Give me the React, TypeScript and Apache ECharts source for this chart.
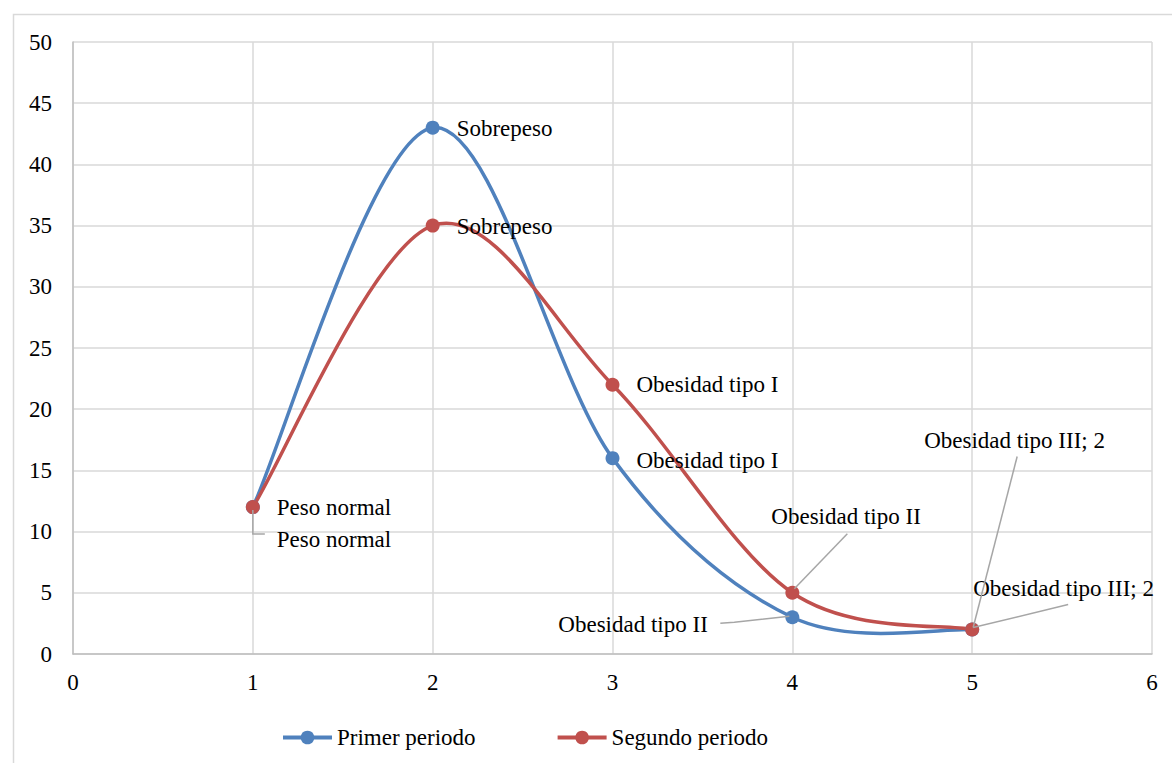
import React, { useEffect, useRef } from 'react';
import * as echarts from 'echarts';

const xValues = [1, 2, 3, 4, 5];
const primerValues = [12, 43, 16, 3, 2];
const segundoValues = [12, 35, 22, 5, 2];
const categoryNames = ['Peso normal', 'Sobrepeso', 'Obesidad tipo I', 'Obesidad tipo II', 'Obesidad tipo III'];
const seriesNames = ['Primer periodo', 'Segundo periodo'];

// label displacement (px) relative to default "right" position
const primerLabelShift = [[0, 32], [0, 1], [0, 2], [-258, 7], [-72, -189]];
const segundoLabelShift = [[0, 0], [0, 1], [0, 0], [-45, -76], [-23, -41]];

// leader lines: pixel offsets from the data point, per point (null = none)
const primerLeaders: (number[][] | null)[] = [
  [[0, 3], [0, 27], [12, 27]],
  null,
  null,
  [[-72, 6], [-58, 5], [-3, -1]],
  [[45, -173], [1, -2]],
];
const segundoLeaders: (number[][] | null)[] = [
  null,
  null,
  null,
  [[55, -59], [2, -4]],
  [[96, -25], [1, -2]],
];

const FONT = 'Liberation Serif';
const BLUE = '#4f81bd';
const RED = '#c0504d';

export default function App() {
  const ref = useRef<HTMLDivElement>(null);
  useEffect(() => {
    if (!ref.current) return;
    const chart = echarts.init(ref.current, undefined, { renderer: 'svg' });
    const labelCommon = {
      show: true,
      position: 'right',
      distance: 17,
      fontFamily: FONT,
      fontSize: 23,
      color: '#000',
      formatter: (p: any) =>
        p.dataIndex === xValues.length - 1 ? `${p.name}; ${p.value[1]}` : p.name,
    };

    // Catmull-Rom style smoothed curve (like the spreadsheet's smoothed line)
    const mkCurve = (name: string, values: number[], color: string) => ({
      type: 'custom',
      name,
      z: 1,
      coordinateSystem: 'cartesian2d',
      data: values.map((v, i) => [xValues[i], v]),
      encode: { x: 0, y: 1 },
      silent: true,
      renderItem: (params: any, api: any) => {
        const n = values.length;
        const i = params.dataIndex;
        if (i >= n - 1) return null;
        const pts = values.map((v, k) => api.coord([xValues[k], v]));
        const p0 = pts[Math.max(i - 1, 0)];
        const p1 = pts[i];
        const p2 = pts[i + 1];
        const p3 = pts[Math.min(i + 2, n - 1)];
        return {
          type: 'bezierCurve',
          shape: {
            x1: p1[0],
            y1: p1[1],
            x2: p2[0],
            y2: p2[1],
            cpx1: p1[0] + (p2[0] - p0[0]) / 6,
            cpy1: p1[1] + (p2[1] - p0[1]) / 6,
            cpx2: p2[0] - (p3[0] - p1[0]) / 6,
            cpy2: p2[1] - (p3[1] - p1[1]) / 6,
          },
          style: { stroke: color, lineWidth: 3.5, fill: 'none', lineCap: 'round' },
        };
      },
    });

    const mkLeaders = (name: string, values: number[], leaders: (number[][] | null)[]) => ({
      type: 'custom',
      name,
      z: 4,
      coordinateSystem: 'cartesian2d',
      data: values.map((v, i) => [xValues[i], v]),
      encode: { x: 0, y: 1 },
      silent: true,
      renderItem: (params: any, api: any) => {
        const l = leaders[params.dataIndex];
        if (!l) return null;
        const c = api.coord([api.value(0), api.value(1)]);
        return {
          type: 'polyline',
          shape: { points: l.map((o) => [c[0] + o[0], c[1] + o[1]]) },
          style: { stroke: '#a6a6a6', lineWidth: 1.5, fill: 'none' },
        };
      },
    });

    const mkSeries = (name: string, values: number[], color: string, shift: number[][]) => ({
      type: 'line',
      name,
      z: 3,
      data: values.map((v, i) => ({ value: [xValues[i], v], name: categoryNames[i] })),
      symbol: 'circle',
      symbolSize: 14,
      itemStyle: { color },
      lineStyle: { color, width: 0, opacity: 0 },
      label: labelCommon,
      labelLayout: (params: any) => {
        const s = shift[params.dataIndex];
        return { dx: s[0], dy: s[1] };
      },
    });
    chart.setOption({
      animation: false,
      textStyle: { fontFamily: FONT },
      graphic: [
        {
          type: 'rect',
          left: 11,
          top: 12,
          shape: { x: 0, y: 0, width: 1200, height: 800 },
          style: { fill: 'none', stroke: '#d9d9d9', lineWidth: 1.5 },
          silent: true,
        },
      ],
      grid: { left: 73, right: 20, top: 42, bottom: 109, containLabel: false },
      xAxis: {
        type: 'value',
        min: 0,
        max: 6,
        interval: 1,
        axisLine: { show: true, lineStyle: { color: '#bfbfbf', width: 1.5 } },
        axisTick: { show: false },
        axisLabel: { fontFamily: FONT, fontSize: 23, color: '#000', margin: 17 },
        splitLine: { show: true, lineStyle: { color: '#d9d9d9', width: 1.5 } },
      },
      yAxis: {
        type: 'value',
        min: 0,
        max: 50,
        interval: 5,
        axisLine: { show: true, lineStyle: { color: '#bfbfbf', width: 1.5 } },
        axisTick: { show: false },
        axisLabel: { fontFamily: FONT, fontSize: 23, color: '#000', margin: 21 },
        splitLine: { show: true, lineStyle: { color: '#d9d9d9', width: 1.5 } },
      },
      legend: {
        left: 276,
        top: 721,
        itemWidth: 49,
        itemHeight: 17,
        itemGap: 80,
        lineStyle: { width: 4, opacity: 1 },
        textStyle: { fontFamily: FONT, fontSize: 23, color: '#000' },
        data: seriesNames,
      },
      series: [
        mkCurve(seriesNames[0] + ' curva', primerValues, BLUE),
        mkCurve(seriesNames[1] + ' curva', segundoValues, RED),
        mkSeries(seriesNames[0], primerValues, BLUE, primerLabelShift),
        mkSeries(seriesNames[1], segundoValues, RED, segundoLabelShift),
        mkLeaders(seriesNames[0] + ' guias', primerValues, primerLeaders),
        mkLeaders(seriesNames[1] + ' guias', segundoValues, segundoLeaders),
      ],
    });
    return () => chart.dispose();
  }, []);
  return (
    <div
      ref={ref}
      style={{ position: 'absolute', left: 0, top: 0, width: 1172, height: 763, background: '#fff' }}
    />
  );
}
